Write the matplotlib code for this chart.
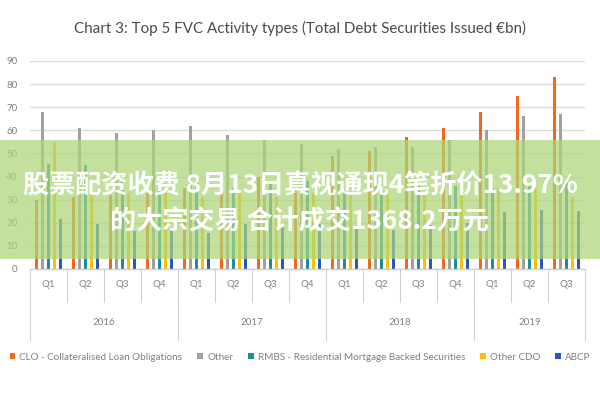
import matplotlib
matplotlib.use("Agg")
import matplotlib.pyplot as plt
import numpy as np
from matplotlib.patches import Rectangle
from matplotlib.lines import Line2D

quarters = ['Q1', 'Q2', 'Q3', 'Q4', 'Q1', 'Q2', 'Q3', 'Q4',
            'Q1', 'Q2', 'Q3', 'Q4', 'Q1', 'Q2', 'Q3']
years = ['2016', '2017', '2018', '2019']
year_counts = [4, 4, 4, 3]

clo = [30, 31, 32, 33, 35, 34, 40, 35, 49, 51, 57, 61, 68, 75, 83]
other = [68, 61, 59, 60, 62, 58, 56, 54, 52, 53, 53, 56, 60, 66, 67]
rmbs = [45.5, 45, 39, 35, 37, 35, 37, 38, 34, 34, 37, 36, 35, 37, 37]
other_cdo = [55, 33, 33, 33, 31, 33, 31, 33, 32, 32, 33, 33, 35, 35, 31]
abcp = [21.5, 19.5, 16.5, 17, 15.5, 19.5, 18, 19.5, 18, 17, 19, 20, 24.5, 25.5, 25]

series_names = ['CLO - Collateralised Loan Obligations', 'Other',
                'RMBS - Residential Mortgage Backed Securities', 'Other CDO', 'ABCP']
series_vals = [clo, other, rmbs, other_cdo, abcp]
colors = ['#F4661B', '#A0A0A0', '#1F8C9C', '#FFC000', '#2B55C4']

title = 'Chart 3: Top 5 FVC Activity types (Total Debt Securities Issued €bn)'
banner_line1 = '股票配资收费 8月13日真视通现4笔折价13.97%'
banner_line2 = '的大宗交易 合计成交1368.2万元'

latin = ['Lato', 'DejaVu Sans']
txtgray = '#808080'

fig = plt.figure(figsize=(6, 4), dpi=100)
ax = fig.add_axes([0.05, 0.3275, 0.925, 0.52])

n = len(quarters)
x = np.arange(n) + 0.5
spacing = 0.157
width = 0.085
for i, (vals, c, name) in enumerate(zip(series_vals, colors, series_names)):
    ax.bar(x + (i - 2) * spacing, vals, width=width, color=c, label=name, zorder=3)

ax.set_xlim(0, n)
ax.set_ylim(0, 90)
ax.set_yticks(np.arange(0, 91, 10))
ax.grid(axis='y', color='#DADADA', linewidth=1.0, zorder=0)
ax.set_axisbelow(True)
for s in ax.spines.values():
    s.set_visible(False)
ax.set_xticks([])
ax.tick_params(axis='y', length=0, pad=9, labelsize=7, labelcolor=txtgray)
for lab in ax.get_yticklabels():
    lab.set_family(latin)

# category axis (two levels)
trans = ax.get_xaxis_transform()
ax.plot([0, n], [0, 0], color='#D0D0D0', lw=1, transform=trans, clip_on=False, zorder=4)
for i, q in enumerate(quarters):
    ax.text(i + 0.5, -0.075, q, transform=trans, ha='center', va='center',
            fontsize=7, color=txtgray, family=latin)
for b in range(n + 1):
    ax.add_line(Line2D([b, b], [0, -0.16], transform=trans, color='#D0D0D0', lw=0.8, clip_on=False))
start = 0
bounds = [0]
for y_lab, cnt in zip(years, year_counts):
    ax.text(start + cnt / 2, -0.255, y_lab, transform=trans, ha='center', va='center',
            fontsize=7, color=txtgray, family=latin)
    start += cnt
    bounds.append(start)
for b in bounds:
    ax.add_line(Line2D([b, b], [-0.16, -0.34], transform=trans, color='#D0D0D0', lw=0.8, clip_on=False))

fig.text(0.5, 0.93, title, ha='center', va='center', fontsize=10.9, color='#4A4A4A', family=latin)

leg = fig.legend(loc='center', bbox_to_anchor=(0.5, 0.107), ncol=5, frameon=False,
                 handlelength=0.6, handleheight=0.6, handletextpad=0.4,
                 columnspacing=1.5, prop={'family': latin, 'size': 7.1})
for t in leg.get_texts():
    t.set_color(txtgray)

# overlay banner
fig.patches.append(Rectangle((0, (400 - 259) / 400), 1, (259 - 140) / 400,
                             transform=fig.transFigure, facecolor=(0.68, 0.84, 0.47),
                             alpha=0.72, edgecolor='none', zorder=10))
cjk = ['Noto Sans CJK SC', 'DejaVu Sans']
fig.text(0.5, (400 - 186) / 400, banner_line1, ha='center', va='center', fontsize=18.8,
         color='white', fontweight='bold', family=cjk, zorder=11)
fig.text(0.5, (400 - 222) / 400, banner_line2, ha='center', va='center', fontsize=18.8,
         color='white', fontweight='bold', family=cjk, zorder=11)

fig.savefig('out.png', dpi=100)
